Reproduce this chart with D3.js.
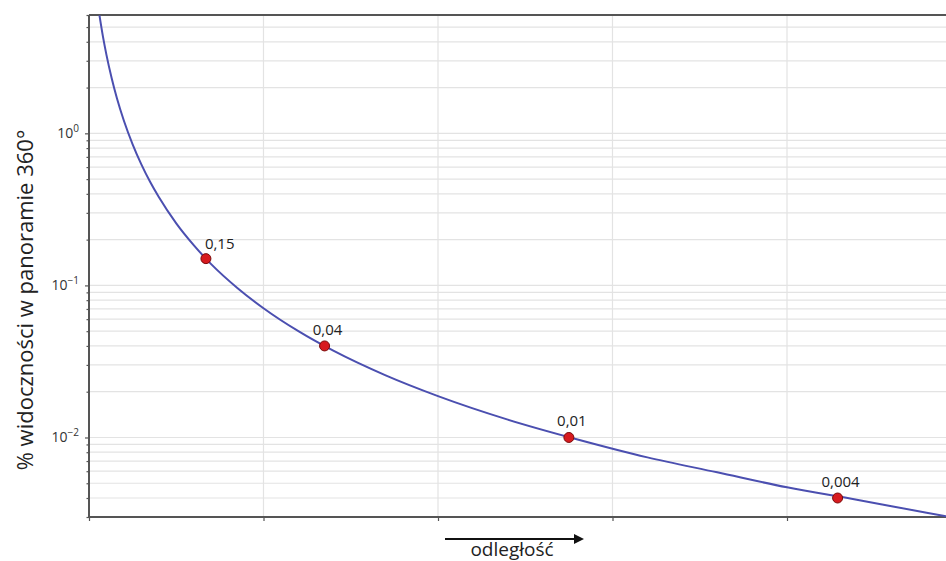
<!DOCTYPE html>
<html>
<head>
<meta charset="utf-8">
<script src="https://cdn.jsdelivr.net/npm/d3@7"></script>
<style>
  body { margin: 0; background: #fff; }
  text { font-family: "Open Sans", "DejaVu Sans", sans-serif; }
</style>
</head>
<body>
<script>
// curve (x in tick units, y in % visibility)
const curveX = [0.06, 0.08, 0.10, 0.13, 0.16, 0.20, 0.25, 0.30, 0.35, 0.40, 0.50, 0.60, 0.70, 0.85,
  1.0, 1.2, 1.4, 1.7, 2.0, 2.4, 2.8, 3.2, 3.6, 4.0, 4.4, 4.8, 4.95];
const curveY = [5.96, 4.32, 3.28, 2.30, 1.70, 1.21, 0.847, 0.625, 0.480, 0.381, 0.256, 0.184, 0.138, 0.0962,
  0.0708, 0.0500, 0.0372, 0.0256, 0.0187, 0.0131, 0.0097, 0.0074, 0.0059, 0.0047, 0.0039, 0.0032, 0.00298];

// marked points
const pointX = [0.67, 1.35, 2.75, 4.29];
const pointY = [0.15, 0.04, 0.01, 0.004];
const pointLabels = ["0,15", "0,04", "0,01", "0,004"];

const xTicks = [0, 1, 2, 3, 4];
const yMajor = [1, 0.1, 0.01];
const yTickLabels = [["10", "0"], ["10", "\u22121"], ["10", "\u22122"]];

const width = 946;
const height = 561;
const margin = { left: 89, top: 15, bottom: 44 };

const x = d3.scaleLinear().domain([0, 5]).range([margin.left, margin.left + 5 * 174.5]);
const y = d3.scaleLog().domain([0.003, 6]).range([height - margin.bottom, margin.top]);

const svg = d3.select("body").append("svg")
  .attr("width", width)
  .attr("height", height);

const plotRight = width + 2;

// horizontal grid (all log ticks)
const allY = y.ticks().filter((t) => t >= 0.003 && t <= 6);
svg.append("g")
  .selectAll("line")
  .data(allY)
  .join("line")
  .attr("x1", margin.left)
  .attr("x2", plotRight)
  .attr("y1", (d) => y(d))
  .attr("y2", (d) => y(d))
  .attr("stroke", "#e3e3e3")
  .attr("stroke-width", 1.2);

// vertical grid
svg.append("g")
  .selectAll("line")
  .data(xTicks.slice(1))
  .join("line")
  .attr("x1", (d) => x(d))
  .attr("x2", (d) => x(d))
  .attr("y1", margin.top)
  .attr("y2", height - margin.bottom)
  .attr("stroke", "#e3e3e3")
  .attr("stroke-width", 1.2);

// y axis with minor ticks
const yg = svg.append("g")
  .attr("transform", `translate(${margin.left},0)`)
  .call(d3.axisLeft(y).tickValues(allY).tickSize(0).tickFormat(""));
yg.select(".domain").remove();
yg.selectAll(".tick line")
  .attr("x2", (d) => (yMajor.includes(d) ? -4 : -2.5))
  .attr("stroke", "#555")
  .attr("stroke-width", 1.2);

// y tick labels, 10 with superscript exponent
const ylab = svg.append("g")
  .selectAll("text")
  .data(yMajor)
  .join("text")
  .attr("x", margin.left - 10)
  .attr("y", (d) => y(d) + 5)
  .attr("text-anchor", "end")
  .attr("font-size", 14)
  .attr("fill", "#333");
ylab.append("tspan").text((d, i) => yTickLabels[i][0]);
ylab.append("tspan")
  .attr("dy", -6)
  .attr("font-size", 10)
  .text((d, i) => yTickLabels[i][1]);

// x axis ticks (no labels)
const xg = svg.append("g")
  .attr("transform", `translate(0,${height - margin.bottom})`)
  .call(d3.axisBottom(x).tickValues(xTicks).tickSize(4).tickFormat(""));
xg.select(".domain").remove();
xg.selectAll(".tick line").attr("stroke", "#555").attr("stroke-width", 1.2);

// spines
svg.append("line")
  .attr("x1", margin.left).attr("x2", plotRight)
  .attr("y1", margin.top).attr("y2", margin.top)
  .attr("stroke", "#555").attr("stroke-width", 2);
svg.append("line")
  .attr("x1", margin.left).attr("x2", plotRight)
  .attr("y1", height - margin.bottom).attr("y2", height - margin.bottom)
  .attr("stroke", "#555").attr("stroke-width", 2);
svg.append("line")
  .attr("x1", margin.left).attr("x2", margin.left)
  .attr("y1", margin.top).attr("y2", height - margin.bottom)
  .attr("stroke", "#555").attr("stroke-width", 2);

// curve
const line = d3.line()
  .x((d) => x(d[0]))
  .y((d) => y(d[1]))
  .curve(d3.curveMonotoneX);
svg.append("path")
  .datum(curveX.map((v, i) => [v, curveY[i]]))
  .attr("d", line)
  .attr("fill", "none")
  .attr("stroke", "#4b4fb0")
  .attr("stroke-width", 2);

// points
svg.append("g")
  .selectAll("circle")
  .data(pointX)
  .join("circle")
  .attr("cx", (d) => x(d))
  .attr("cy", (d, i) => y(pointY[i]))
  .attr("r", 5)
  .attr("fill", "#d71a1f")
  .attr("stroke", "#7a0a0a")
  .attr("stroke-width", 1);

svg.append("g")
  .selectAll("text")
  .data(pointX)
  .join("text")
  .attr("x", (d, i) => (i === 0 ? x(d) - 1 : x(d) + 3))
  .attr("y", (d, i) => y(pointY[i]) - (i === 0 ? 10 : 11))
  .attr("text-anchor", (d, i) => (i === 0 ? "start" : "middle"))
  .attr("font-size", 15)
  .attr("fill", "#222")
  .text((d, i) => pointLabels[i]);

// axis titles
svg.append("text")
  .attr("transform", "translate(33,300) rotate(-90)")
  .attr("text-anchor", "middle")
  .attr("font-size", 22)
  .attr("fill", "#222")
  .text("% widoczności w panoramie 360°");

svg.append("defs").append("marker")
  .attr("id", "arrow")
  .attr("viewBox", "0 0 10 10")
  .attr("refX", 0)
  .attr("refY", 5)
  .attr("markerWidth", 6.5)
  .attr("markerHeight", 5)
  .attr("markerUnits", "strokeWidth")
  .attr("orient", "auto")
  .append("path")
  .attr("d", "M0,0L10,5L0,10z")
  .attr("fill", "#111");

svg.append("line")
  .attr("x1", 445).attr("x2", 574)
  .attr("y1", 539).attr("y2", 539)
  .attr("stroke", "#111")
  .attr("stroke-width", 2)
  .attr("marker-end", "url(#arrow)");

svg.append("text")
  .attr("x", 512)
  .attr("y", 556)
  .attr("text-anchor", "middle")
  .attr("font-size", 19)
  .attr("fill", "#222")
  .text("odległość");
</script>
</body>
</html>
